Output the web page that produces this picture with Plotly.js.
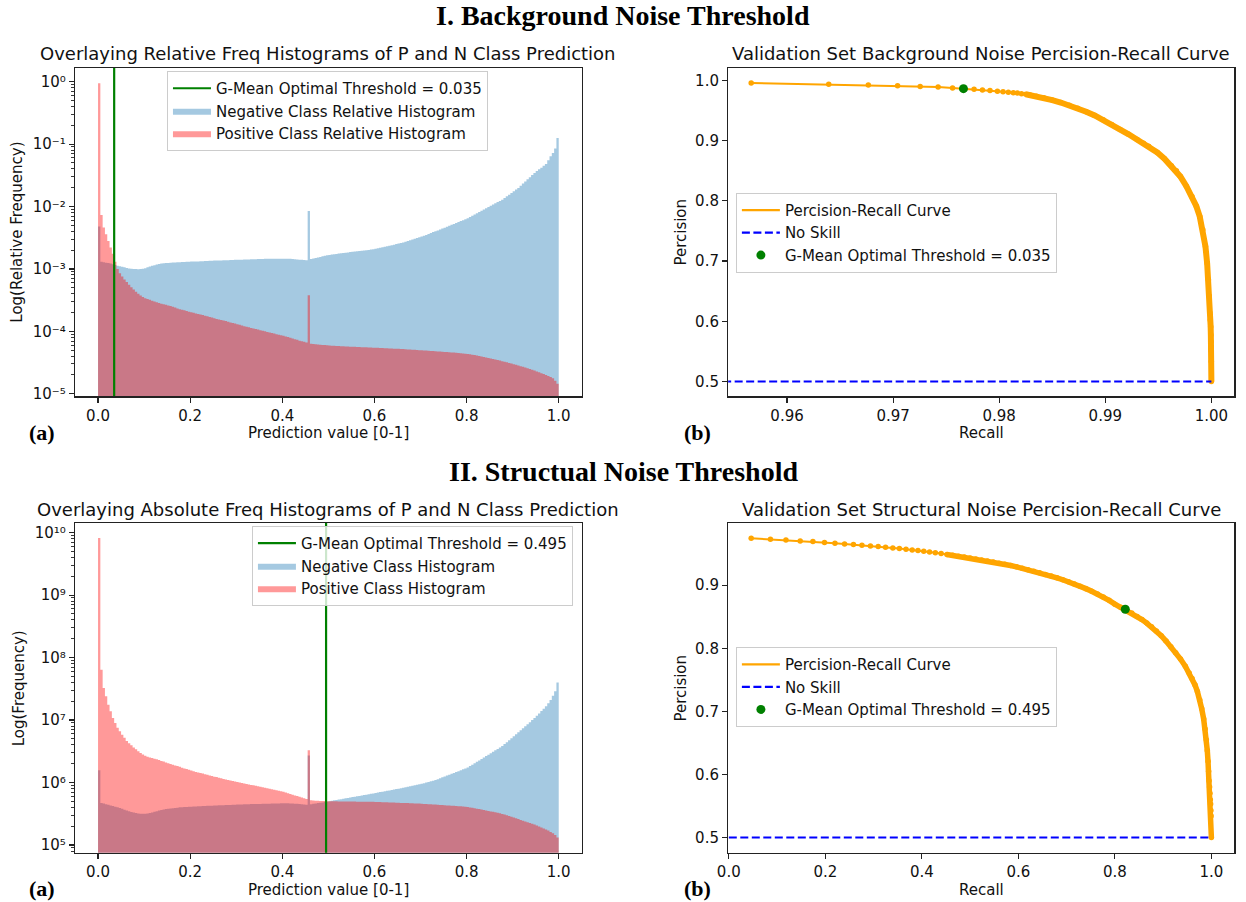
<!DOCTYPE html>
<html><head><meta charset="utf-8">
<script src="https://cdn.plot.ly/plotly-3.0.1.min.js"></script>
<style>body{margin:0;background:#fff}#chart{width:1246px;height:902px}</style>
</head><body><div id="chart"></div>
<script>
// ---------------- DATA ----------------
const binStart = 0, binWidth = 0.005;   // 200 bins over [0, 1]

// I. Background noise: relative frequency histograms
const negRelFreq = [4.8e-3,
1.30e-3,1.28e-3,1.26e-3,1.24e-3,1.22e-3,1.19e-3,1.16e-3,
1.13e-3,1.10e-3,1.08e-3,1.06e-3,1.04e-3,1.02e-3,1.01e-3,1.00e-3,1.00e-3,0.99e-3,1.00e-3,1.01e-3,
1.03e-3,1.06e-3,1.09e-3,1.12e-3,1.15e-3,1.18e-3,1.20e-3,1.22e-3,1.23e-3,1.24e-3,1.25e-3,1.26e-3,1.27e-3,1.27e-3,1.28e-3,
1.28e-3,1.29e-3,1.29e-3,1.30e-3,1.30e-3,1.31e-3,1.31e-3,1.32e-3,1.32e-3,1.33e-3,1.33e-3,1.34e-3,1.34e-3,1.35e-3,
1.35e-3,1.36e-3,1.36e-3,1.37e-3,1.37e-3,1.38e-3,1.38e-3,1.38e-3,1.39e-3,1.39e-3,1.40e-3,1.40e-3,1.41e-3,1.41e-3,1.42e-3,1.42e-3,
1.42e-3,1.43e-3,1.43e-3,1.43e-3,1.44e-3,1.44e-3,1.44e-3,1.45e-3,1.45e-3,1.45e-3,1.45e-3,1.46e-3,1.46e-3,1.46e-3,1.46e-3,1.46e-3,
1.46e-3,1.45e-3,1.45e-3,1.44e-3,1.43e-3,1.42e-3,1.41e-3,1.40e-3,1.39e-3,1.38e-3,
8.5e-3,
1.44e-3,1.47e-3,1.50e-3,1.53e-3,1.56e-3,1.59e-3,1.62e-3,1.65e-3,
1.68e-3,1.70e-3,1.72e-3,1.74e-3,1.76e-3,1.78e-3,1.80e-3,1.82e-3,1.84e-3,1.86e-3,1.88e-3,1.90e-3,1.92e-3,1.94e-3,1.96e-3,1.98e-3,2.00e-3,2.02e-3,2.04e-3,2.06e-3,
2.10e-3,2.14e-3,2.18e-3,2.22e-3,2.26e-3,2.30e-3,2.35e-3,2.40e-3,2.45e-3,2.50e-3,2.55e-3,2.60e-3,
2.66e-3,2.73e-3,2.80e-3,2.88e-3,2.96e-3,3.04e-3,3.12e-3,3.21e-3,3.30e-3,3.40e-3,3.51e-3,3.63e-3,3.76e-3,3.90e-3,4.02e-3,
4.15e-3,4.29e-3,4.44e-3,4.59e-3,4.75e-3,4.92e-3,5.09e-3,5.27e-3,5.45e-3,5.64e-3,5.84e-3,6.05e-3,6.27e-3,6.50e-3,
6.81e-3,7.13e-3,7.46e-3,7.81e-3,8.18e-3,8.56e-3,8.96e-3,9.38e-3,9.83e-3,1.03e-2,1.08e-2,1.13e-2,1.18e-2,1.23e-2,1.29e-2,
1.37e-2,1.46e-2,1.55e-2,1.65e-2,1.76e-2,1.87e-2,1.99e-2,
2.15e-2,2.33e-2,2.52e-2,2.73e-2,2.95e-2,3.19e-2,3.45e-2,
3.70e-2,3.95e-2,4.20e-2,4.50e-2,4.80e-2,
5.50e-2,6.40e-2,7.20e-2,8.50e-2,
0.126];

const posRelFreq = [0.95,
7.3e-3,4.6e-3,3.6e-3,2.8e-3,2.2e-3,1.75e-3,1.3e-3,
1.0e-3,8.5e-4,7.6e-4,6.8e-4,6.2e-4,5.6e-4,5.1e-4,4.7e-4,4.3e-4,4.0e-4,3.75e-4,3.55e-4,
3.4e-4,3.3e-4,3.2e-4,3.1e-4,3.0e-4,2.92e-4,2.85e-4,2.78e-4,2.72e-4,2.66e-4,2.6e-4,2.54e-4,2.48e-4,2.42e-4,
2.32e-4,2.27e-4,2.22e-4,2.17e-4,2.12e-4,2.07e-4,2.02e-4,1.98e-4,1.94e-4,1.90e-4,1.86e-4,1.82e-4,1.78e-4,1.74e-4,1.70e-4,
1.66e-4,1.62e-4,1.58e-4,1.55e-4,1.52e-4,1.49e-4,1.46e-4,1.42e-4,1.39e-4,1.36e-4,1.33e-4,1.30e-4,1.27e-4,1.24e-4,1.21e-4,1.18e-4,
1.16e-4,1.13e-4,1.11e-4,1.09e-4,1.07e-4,1.04e-4,1.02e-4,1.00e-4,9.8e-5,9.6e-5,9.4e-5,9.2e-5,9.0e-5,8.85e-5,8.65e-5,8.5e-5,
8.3e-5,8.1e-5,7.9e-5,7.7e-5,7.5e-5,7.3e-5,7.1e-5,6.95e-5,6.8e-5,6.65e-5,
3.8e-4,
6.3e-5,6.25e-5,6.2e-5,6.15e-5,6.1e-5,6.06e-5,6.02e-5,5.98e-5,5.94e-5,5.9e-5,5.87e-5,5.84e-5,5.81e-5,5.78e-5,5.75e-5,5.72e-5,5.7e-5,5.68e-5,5.66e-5,5.64e-5,5.62e-5,5.6e-5,5.58e-5,5.56e-5,5.54e-5,5.52e-5,5.5e-5,5.48e-5,
5.46e-5,5.44e-5,5.42e-5,5.40e-5,5.37e-5,5.35e-5,5.33e-5,5.31e-5,5.28e-5,5.26e-5,5.24e-5,5.21e-5,5.19e-5,5.16e-5,5.14e-5,5.11e-5,5.09e-5,5.06e-5,5.03e-5,5.00e-5,
4.98e-5,4.95e-5,4.92e-5,4.89e-5,4.86e-5,4.83e-5,4.80e-5,4.77e-5,4.74e-5,4.71e-5,4.68e-5,4.65e-5,4.62e-5,4.59e-5,4.56e-5,4.53e-5,4.50e-5,4.46e-5,4.42e-5,4.38e-5,
4.34e-5,4.28e-5,4.22e-5,4.16e-5,4.10e-5,4.03e-5,3.96e-5,3.89e-5,3.82e-5,3.75e-5,3.68e-5,3.61e-5,3.54e-5,3.47e-5,3.40e-5,3.33e-5,
3.26e-5,3.19e-5,3.12e-5,3.05e-5,2.98e-5,2.91e-5,2.84e-5,2.77e-5,2.70e-5,2.63e-5,2.56e-5,2.49e-5,2.42e-5,2.35e-5,
2.28e-5,2.21e-5,2.14e-5,2.07e-5,2.00e-5,1.93e-5,1.85e-5,1.77e-5,1.62e-5,1.45e-5];

// II. Structural noise: absolute frequency histograms
const negAbsFreq = [1.57e6,
4.7e5,4.6e5,4.5e5,4.4e5,4.3e5,4.2e5,4.1e5,
4.0e5,3.9e5,3.8e5,3.68e5,3.56e5,3.46e5,3.38e5,3.31e5,3.25e5,3.2e5,3.17e5,3.16e5,
3.17e5,3.2e5,3.25e5,3.32e5,3.4e5,3.48e5,3.56e5,3.64e5,3.7e5,3.75e5,3.8e5,3.84e5,3.88e5,3.92e5,3.96e5,
4.0e5,4.02e5,4.04e5,4.06e5,4.08e5,4.1e5,4.12e5,4.14e5,4.16e5,4.18e5,4.2e5,4.22e5,4.23e5,4.25e5,
4.26e5,4.28e5,4.29e5,4.31e5,4.32e5,4.34e5,4.35e5,4.37e5,4.38e5,4.4e5,4.41e5,4.43e5,4.44e5,4.46e5,4.47e5,4.5e5,
4.5e5,4.51e5,4.52e5,4.53e5,4.54e5,4.55e5,4.56e5,4.57e5,4.58e5,4.59e5,4.6e5,4.61e5,4.62e5,4.63e5,4.64e5,4.65e5,
4.65e5,4.64e5,4.63e5,4.61e5,4.59e5,4.56e5,4.53e5,4.5e5,4.46e5,4.42e5,
2.7e6,
4.5e5,4.56e5,4.62e5,4.68e5,4.74e5,4.8e5,4.87e5,4.94e5,
5.03e5,5.1e5,5.18e5,5.26e5,5.34e5,5.42e5,5.5e5,5.58e5,5.67e5,5.75e5,5.84e5,5.93e5,6.02e5,6.11e5,6.2e5,6.3e5,6.39e5,6.49e5,6.59e5,6.69e5,
6.8e5,6.91e5,7.02e5,7.13e5,7.24e5,7.36e5,7.48e5,7.6e5,7.72e5,7.85e5,7.97e5,8.1e5,
8.25e5,8.4e5,8.55e5,8.7e5,8.86e5,9.02e5,9.18e5,9.35e5,9.52e5,
9.75e5,9.98e5,1.02e6,1.045e6,1.07e6,1.095e6,
1.13e6,1.17e6,1.21e6,1.25e6,1.29e6,1.33e6,1.38e6,1.42e6,1.47e6,1.52e6,1.57e6,1.63e6,1.68e6,1.74e6,
1.83e6,1.93e6,2.04e6,2.15e6,2.26e6,2.38e6,2.51e6,2.65e6,2.79e6,2.94e6,3.1e6,3.27e6,3.45e6,3.63e6,3.83e6,
4.12e6,4.43e6,4.76e6,5.12e6,5.5e6,5.92e6,6.36e6,
6.86e6,7.39e6,7.97e6,8.59e6,9.26e6,9.98e6,1.076e7,
1.17e7,1.27e7,1.39e7,1.52e7,1.66e7,
1.85e7,2.1e7,2.45e7,2.9e7,
4.0e7];

const posAbsFreq = [8.2e9,
6.4e7,3.27e7,2.4e7,1.76e7,1.38e7,1.08e7,9.0e6,7.5e6,6.6e6,5.8e6,5.2e6,4.6e6,4.25e6,3.95e6,3.65e6,3.4e6,3.18e6,2.97e6,2.82e6,2.68e6,
2.58e6,2.52e6,2.46e6,2.4e6,2.35e6,2.29e6,
2.22e6,2.16e6,2.1e6,2.04e6,1.98e6,1.93e6,1.88e6,
1.84e6,1.78e6,1.73e6,1.68e6,1.64e6,1.6e6,1.56e6,
1.52e6,1.48e6,1.45e6,1.42e6,1.39e6,1.36e6,1.33e6,
1.3e6,1.27e6,1.24e6,1.22e6,1.19e6,1.17e6,1.14e6,1.12e6,
1.1e6,1.08e6,1.06e6,1.04e6,1.02e6,1.0e6,9.8e5,9.65e5,9.5e5,
9.33e5,9.16e5,9.0e5,8.84e5,8.68e5,8.52e5,8.37e5,8.22e5,8.07e5,7.93e5,7.79e5,7.65e5,7.51e5,7.38e5,7.24e5,7.11e5,
6.92e5,6.74e5,6.56e5,6.39e5,6.22e5,6.06e5,5.9e5,5.74e5,5.59e5,5.45e5,
3.3e6,
5.2e5,5.15e5,5.12e5,5.1e5,5.08e5,5.06e5,5.04e5,5.02e5,
5.0e5,5.0e5,4.99e5,4.99e5,4.98e5,4.98e5,4.97e5,4.97e5,4.96e5,4.96e5,4.95e5,4.95e5,4.94e5,4.94e5,4.93e5,4.93e5,4.92e5,4.92e5,4.91e5,4.9e5,
4.89e5,4.87e5,4.86e5,4.84e5,4.83e5,4.81e5,4.8e5,4.78e5,4.77e5,4.75e5,4.74e5,4.72e5,4.71e5,4.69e5,4.68e5,4.66e5,4.65e5,4.63e5,4.62e5,4.6e5,
4.58e5,4.55e5,4.53e5,4.5e5,4.48e5,4.45e5,4.43e5,4.4e5,4.38e5,4.35e5,4.33e5,4.3e5,4.28e5,4.25e5,4.23e5,4.2e5,4.18e5,4.15e5,4.13e5,4.1e5,
4.05e5,3.99e5,3.93e5,3.87e5,3.81e5,3.75e5,3.69e5,3.63e5,3.57e5,3.51e5,3.45e5,3.39e5,3.33e5,3.27e5,3.21e5,
3.14e5,3.07e5,2.99e5,2.91e5,2.83e5,2.75e5,2.67e5,2.6e5,2.52e5,2.45e5,2.38e5,2.31e5,2.24e5,2.18e5,
2.12e5,2.05e5,1.98e5,1.91e5,1.84e5,1.77e5,1.7e5,1.62e5,1.54e5,1.45e5,1.32e5];

const thresholdBG = 0.035;
const thresholdST = 0.495;

// Precision-recall curves
const prRecallBG = [0.95662,0.96393,0.96766,0.97042,0.97255,0.97424,0.97560,0.97663,0.97763,0.97842,0.97913,0.97983,0.98036,0.98086,0.98133,0.98171,
0.98210,0.98250,0.98290,0.98350,0.98420,0.98500,0.98580,0.98660,0.98740,0.98820,0.98900,0.98980,0.99060,0.99140,
0.99220,0.99300,0.99360,0.99409,0.99490,0.99557,0.99623,0.99670,0.99707,0.99764,0.99817,0.99858,0.99890,0.99919,0.99944,0.99960,0.99972,0.99980,0.99986,0.99990,0.99993,0.99995,0.99997,0.99998,0.99999,1.00000];
const prPrecBG = [0.9957,0.9934,0.9923,0.9912,0.9900,0.9890,0.9873,0.9862,0.9851,0.9840,0.9830,0.9820,0.9811,0.9803,0.9795,0.9788,
0.9779,0.9769,0.9757,0.9737,0.9710,0.9672,0.9632,0.9587,0.9537,0.9480,0.9417,0.9347,0.9267,0.9182,
0.9105,0.9020,0.8955,0.8905,0.8802,0.8699,0.8583,0.8500,0.8405,0.8243,0.8073,0.7910,0.7741,0.7520,0.7243,0.6960,0.6690,0.6420,0.6136,0.6020,0.5910,0.5770,0.5660,0.5510,0.5330,0.5000];

const prRecallST = [0.0464,0.0863,0.1184,0.1480,0.1743,0.1983,0.2200,0.2399,0.2583,0.2759,0.2935,0.3096,0.3248,0.3399,0.3535,0.3672,0.3800,0.3920,0.4040,
0.4160,0.4280,0.4400,0.4520,0.4640,0.4760,0.4880,0.5000,0.5120,0.5240,0.5360,0.5480,0.5600,0.5720,0.5840,0.5960,0.6080,0.6200,0.6320,0.6440,0.6560,
0.6680,0.6800,0.6920,0.7040,0.7160,0.7280,0.7400,0.7520,0.7640,0.7760,0.7880,0.8000,0.8120,0.8216,0.8350,0.8460,0.8560,0.8660,0.8760,0.8860,0.8960,
0.9060,0.9160,0.9260,0.9360,0.9460,0.9540,0.9600,0.9660,0.9710,0.9760,0.9800,0.9840,0.9870,0.9895,0.9915,0.9930,0.9942,0.9952,0.9962,0.9970,0.9978,
0.9984,0.9990,0.9994,1.0000];
const prPrecST = [0.9745,0.9729,0.9718,0.9702,0.9692,0.9676,0.9666,0.9655,0.9645,0.9634,0.9623,0.9613,0.9602,0.9592,0.9581,0.9571,0.9560,0.9550,0.9539,
0.9527,0.9515,0.9502,0.9488,0.9474,0.9460,0.9446,0.9431,0.9416,0.9401,0.9386,0.9368,0.9350,0.9332,0.9313,0.9292,0.9270,0.9247,0.9223,0.9198,0.9172,
0.9145,0.9117,0.9087,0.9055,0.9021,0.8985,0.8946,0.8904,0.8860,0.8812,0.8760,0.8700,0.8650,0.8620,0.8560,0.8505,0.8455,0.8400,0.8340,0.8275,0.8200,
0.8115,0.8025,0.7930,0.7830,0.7715,0.7610,0.7520,0.7420,0.7315,0.7180,0.7040,0.6880,0.6720,0.6550,0.6380,0.6210,0.6050,0.5900,0.5800,0.5700,0.5600,
0.5530,0.5430,0.5340,0.5000];

const gmeanRecallBG = [0.97663], gmeanPrecBG = [0.9862];
const gmeanRecallST = [0.8216],  gmeanPrecST = [0.8620];
const noSkillRecall = [0, 1], noSkillPrec = [0.5, 0.5];

// Tick labels
const relTickVals = [1e-5,1e-4,1e-3,1e-2,1e-1,1];
const relTickText = ['10\u207B\u2075','10\u207B\u2074','10\u207B\u00B3','10\u207B\u00B2','10\u207B\u00B9','10\u2070'];
const absTickVals = [1e5,1e6,1e7,1e8,1e9,1e10];
const absTickText = ['10\u2075','10\u2076','10\u2077','10\u2078','10\u2079','10\u00B9\u2070'];

// ---------------- STYLE ----------------
const FONT = 'DejaVu Sans';
const SERIF = 'Liberation Serif';
const BLUE = 'rgba(31,119,180,0.4)';
const RED = 'rgba(255,0,0,0.4)';
const ORANGE = '#ffa500';
const GREEN = '#008000';

function minorLog(lo, hi) {
  const out = [];
  for (let k = Math.floor(lo); k <= Math.ceil(hi); k++)
    for (let m = 2; m <= 9; m++) {
      const v = m * Math.pow(10, k);
      const l = Math.log10(v);
      if (l > lo && l < hi) out.push(v);
    }
  return out;
}
const withLast = a => a.concat([a[a.length - 1]]);

function histTrace(vals, color, name, xa, ya, leg, rank) {
  return {type:'scatter', mode:'lines', x0:binStart, dx:binWidth, y:withLast(vals),
    line:{shape:'hv', width:0, color:color}, fill:'tozeroy', fillcolor:color,
    name:name, xaxis:xa, yaxis:ya, legend:leg, legendrank:rank, hoverinfo:'skip'};
}
function vline(t, name, xa, ya, leg, ylo, yhi) {
  return {type:'scatter', mode:'lines', x:[t, t], y:[ylo, yhi], line:{color:GREEN, width:2.2},
    name:name, xaxis:xa, yaxis:ya, legend:leg, legendrank:1, hoverinfo:'skip'};
}
function prTraces(rec, prec, bandFrom, bandWidth, gR, gP, gLabel, xa, ya, leg) {
  const k = rec.findIndex(r => r >= bandFrom);
  return [
    {type:'scatter', mode:'lines', x:rec.slice(k), y:prec.slice(k), line:{color:ORANGE, width:bandWidth},
     showlegend:false, xaxis:xa, yaxis:ya, hoverinfo:'skip'},
    {type:'scatter', mode:'lines+markers', x:rec, y:prec, line:{color:ORANGE, width:2},
     marker:{color:ORANGE, size:5.5}, showlegend:false, xaxis:xa, yaxis:ya, hoverinfo:'skip'},
    {type:'scatter', mode:'lines', x:noSkillRecall, y:noSkillPrec, line:{color:'#0000ff', width:2.2, dash:'8px,3.5px'},
     name:'No Skill', xaxis:xa, yaxis:ya, legend:leg, legendrank:2, hoverinfo:'skip'},
    {type:'scatter', mode:'lines', x:[null], y:[null], line:{color:ORANGE, width:2.2},
     name:'Percision-Recall Curve', xaxis:xa, yaxis:ya, legend:leg, legendrank:1},
    {type:'scatter', mode:'markers', x:gR, y:gP, marker:{color:GREEN, size:9},
     name:gLabel, xaxis:xa, yaxis:ya, legend:leg, legendrank:3, hoverinfo:'skip'}
  ];
}

const data = [
  histTrace(negRelFreq, BLUE, 'Negative Class Relative Histogram', 'x', 'y', 'legend', 2),
  histTrace(posRelFreq, RED, 'Positive Class Relative Histogram', 'x', 'y', 'legend', 3),
  vline(thresholdBG, 'G-Mean Optimal Threshold = 0.035', 'x', 'y', 'legend', 1e-7, 1e3),
  ...prTraces(prRecallBG, prPrecBG, 0.9825, 6, gmeanRecallBG, gmeanPrecBG, 'G-Mean Optimal Threshold = 0.035', 'x2', 'y2', 'legend2'),
  histTrace(negAbsFreq, BLUE, 'Negative Class Histogram', 'x3', 'y3', 'legend3', 2),
  histTrace(posAbsFreq, RED, 'Positive Class Histogram', 'x3', 'y3', 'legend3', 3),
  vline(thresholdST, 'G-Mean Optimal Threshold = 0.495', 'x3', 'y3', 'legend3', 1e3, 1e12),
  ...prTraces(prRecallST, prPrecST, 0.45, 5.5, gmeanRecallST, gmeanPrecST, 'G-Mean Optimal Threshold = 0.495', 'x4', 'y4', 'legend4')
];

const axBase = {showline:true, linecolor:'#222', linewidth:1.2, mirror:true, ticks:'outside', ticklen:5,
  tickwidth:1.2, tickcolor:'#222', showgrid:false, zeroline:false, fixedrange:true,
  tickfont:{family:FONT, size:15, color:'#111'}};
const minorBase = {ticks:'outside', ticklen:3, tickwidth:0.9, tickcolor:'#222', showgrid:false};

const DX_L = [0.0602, 0.4669], DX_R = [0.5844, 0.9907];
const DY_T = [0.5605, 0.9246], DY_B = [0.0547, 0.4202];
const relRange = [-5.043, 0.22], absRange = [4.877, 10.155];

const legBase = {xanchor:'left', yanchor:'top', bgcolor:'rgba(255,255,255,0.8)', bordercolor:'#cccccc',
  borderwidth:1, font:{family:FONT, size:15, color:'#111'}, traceorder:'normal', itemwidth:38};

function ann(text, x, y, size, opts) {
  return Object.assign({text:text, x:x, y:y, xref:'paper', yref:'paper', showarrow:false,
    xanchor:'center', yanchor:'middle', font:{family:FONT, size:size, color:'#111'}}, opts || {});
}
const serifBold = s => ({font:{family:SERIF, size:s, color:'#000', weight:'bold'}});

const layout = {
  width:1246, height:902, margin:{l:0, r:0, t:0, b:0}, paper_bgcolor:'#fff', plot_bgcolor:'#fff',
  showlegend:true,
  xaxis: Object.assign({}, axBase, {domain:DX_L, range:[-0.05, 1.05], tick0:0, dtick:0.2, tickformat:'.1f', anchor:'y'}),
  yaxis: Object.assign({}, axBase, {domain:DY_T, type:'log', range:relRange, tickmode:'array', tickvals:relTickVals,
    ticktext:relTickText, anchor:'x', minor:Object.assign({tickvals:minorLog(relRange[0], relRange[1])}, minorBase)}),
  xaxis2: Object.assign({}, axBase, {domain:DX_R, range:[0.95445, 1.00217], tick0:0.96, dtick:0.01, tickformat:'.2f', anchor:'y2'}),
  yaxis2: Object.assign({}, axBase, {domain:DY_T, range:[0.4752, 1.0205], tick0:0.5, dtick:0.1, tickformat:'.1f', anchor:'x2'}),
  xaxis3: Object.assign({}, axBase, {domain:DX_L, range:[-0.05, 1.05], tick0:0, dtick:0.2, tickformat:'.1f', anchor:'y3'}),
  yaxis3: Object.assign({}, axBase, {domain:DY_B, type:'log', range:absRange, tickmode:'array', tickvals:absTickVals,
    ticktext:absTickText, anchor:'x3', minor:Object.assign({tickvals:minorLog(absRange[0], absRange[1])}, minorBase)}),
  xaxis4: Object.assign({}, axBase, {domain:DX_R, range:[-0.0013, 1.0477], tick0:0, dtick:0.2, tickformat:'.1f', anchor:'y4'}),
  yaxis4: Object.assign({}, axBase, {domain:DY_B, range:[0.476, 0.9987], tick0:0.5, dtick:0.1, tickformat:'.1f', anchor:'x4'}),
  legend: Object.assign({}, legBase, {x:0.1340, y:0.9213}),
  legend2: Object.assign({}, legBase, {x:0.5906, y:0.7862}),
  legend3: Object.assign({}, legBase, {x:0.2022, y:0.4169}),
  legend4: Object.assign({}, legBase, {x:0.5906, y:0.2825}),
  annotations: [
    ann('I. Background Noise Threshold', 0.5, 0.98337, 28, serifBold(28)),
    ann('II. Structual Noise Threshold', 0.5, 0.47672, 28, serifBold(28)),
    ann('Overlaying Relative Freq Histograms of P and N Class Prediction', 0.2636, 0.94091, 18),
    ann('Validation Set Background Noise Percision-Recall Curve', 0.7875, 0.94091, 18),
    ann('Overlaying Absolute Freq Histograms of P and N Class Prediction', 0.2636, 0.43537, 18),
    ann('Validation Set Structural Noise Percision-Recall Curve', 0.7875, 0.43537, 18),
    ann('Prediction value [0-1]', 0.2636, 0.51996, 15),
    ann('Recall', 0.7875, 0.51996, 15),
    ann('Prediction value [0-1]', 0.2636, 0.01330, 15),
    ann('Recall', 0.7875, 0.01330, 15),
    ann('Log(Relative Frequency)', 0.01340, 0.74279, 15, {textangle:-90}),
    ann('Log(Frequency)', 0.01549, 0.23725, 15, {textangle:-90}),
    ann('Percision', 0.54623, 0.74279, 15, {textangle:-90}),
    ann('Percision', 0.54623, 0.23725, 15, {textangle:-90}),
    ann('(a)', 0.03347, 0.51996, 22, serifBold(22)),
    ann('(b)', 0.5594, 0.52106, 22, serifBold(22)),
    ann('(a)', 0.03347, 0.01552, 22, serifBold(22)),
    ann('(b)', 0.5594, 0.01552, 22, serifBold(22))
  ]
};

Plotly.newPlot('chart', data, layout, {staticPlot:true, displayModeBar:false});
</script>
</body></html>
